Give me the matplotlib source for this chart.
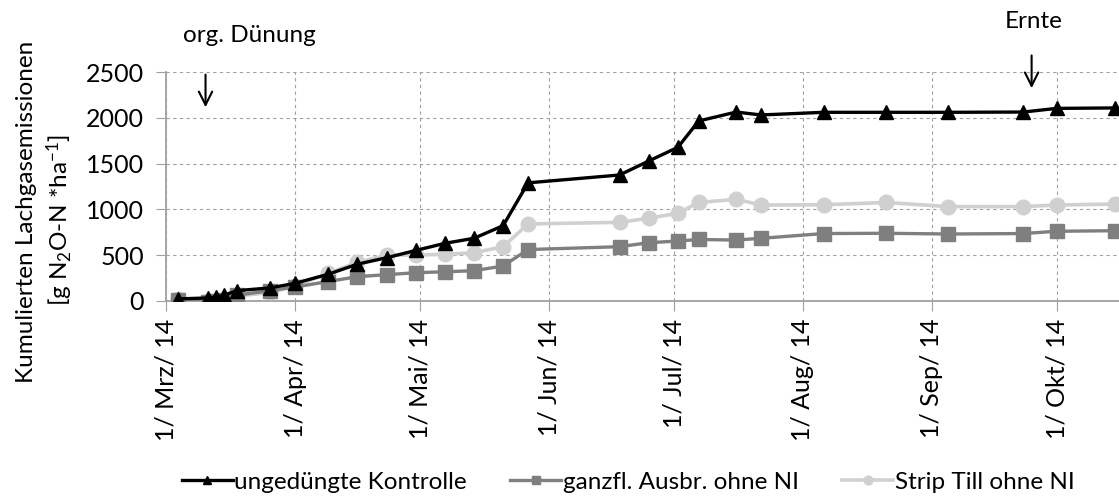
import matplotlib
matplotlib.use("Agg")
import matplotlib.pyplot as plt
import pandas as pd

plt.rcParams['font.family'] = ['Lato', 'DejaVu Sans']
plt.rcParams['mathtext.fontset'] = 'custom'
plt.rcParams['mathtext.rm'] = 'Lato'
plt.rcParams['mathtext.it'] = 'Lato:italic'
plt.rcParams['mathtext.bf'] = 'Lato:bold'

dates = ["2014-03-04", "2014-03-11", "2014-03-13", "2014-03-15", "2014-03-18",
         "2014-03-26", "2014-04-01", "2014-04-09", "2014-04-16", "2014-04-23",
         "2014-04-30", "2014-05-07", "2014-05-14", "2014-05-21", "2014-05-27",
         "2014-06-18", "2014-06-25", "2014-07-02", "2014-07-07", "2014-07-16",
         "2014-07-22", "2014-08-06", "2014-08-21", "2014-09-05", "2014-09-23",
         "2014-10-01", "2014-10-15"]

kontrolle = [20, 30, 40, 60, 110, 140, 190, 290, 400, 470, 550, 628, 683, 821, 1290,
             1376, 1529, 1679, 1967, 2065, 2033, 2062, 2062, 2062, 2065, 2105, 2110]
ganzfl = [10, -10, 0, 10, 60, 110, 150, 210, 263, 285, 306, 317, 328, 380, 560,
          591, 635, 653, 670, 664, 683, 735, 738, 730, 735, 760, 766]
strip_till = [15, 0, -10, 0, 50, 90, 160, 300, 420, 500, 500, 508, 525, 591, 840,
              858, 902, 957, 1075, 1110, 1047, 1050, 1075, 1030, 1030, 1047, 1058]

series_labels = ["ungedüngte Kontrolle", "ganzfl. Ausbr. ohne NI", "Strip Till ohne NI"]
tick_dates = ["2014-03-01", "2014-04-01", "2014-05-01", "2014-06-01",
              "2014-07-01", "2014-08-01", "2014-09-01", "2014-10-01"]
tick_labels = ["1/ Mrz/ 14", "1/ Apr/ 14", "1/ Mai/ 14", "1/ Jun/ 14",
               "1/ Jul/ 14", "1/ Aug/ 14", "1/ Sep/ 14", "1/ Okt/ 14"]

x = pd.to_datetime(dates)
xt = pd.to_datetime(tick_dates)

FS = 17.5

fig = plt.figure(figsize=(11.19, 4.96), dpi=100)
ax = fig.add_axes([166/1119, 195.3/496, 1 - 166/1119, (300.7 - 72.3)/496])

ax.plot(x, kontrolle, color='black', lw=2.4, marker='^', ms=9.5, label=series_labels[0], zorder=5)
ax.plot(x, ganzfl, color='#7f7f7f', lw=2.4, marker='s', ms=10, label=series_labels[1], zorder=4)
ax.plot(x, strip_till, color='#d0d0d0', lw=2.6, marker='o', ms=10.5, label=series_labels[2], zorder=3)

ax.set_ylim(0, 2500)
ax.set_yticks([0, 500, 1000, 1500, 2000, 2500])
ax.set_xlim(pd.Timestamp("2014-03-01"), pd.Timestamp("2014-10-16"))
ax.set_xticks(xt)
ax.set_xticklabels(tick_labels, rotation=90, fontsize=FS + 0.5)
ax.tick_params(axis='y', labelsize=FS + 0.5, length=7, pad=9, color='#a0a0a0')
ax.tick_params(axis='x', length=7, pad=6, color='#a0a0a0')

ax.grid(True, which='major', axis='both', color='#a0a0a0', linestyle=(0, (3, 3)), lw=0.8)
ax.set_axisbelow(True)
for s in ['top', 'right']:
    ax.spines[s].set_visible(False)
for s in ['left', 'bottom']:
    ax.spines[s].set_color('#a0a0a0')
    ax.spines[s].set_linewidth(1.3)

fig.text(27/1119, 1 - 212/496, "Kumulierten Lachgasemissionen", rotation=90,
         ha='center', va='center', fontsize=FS)
fig.text(60/1119, 1 - 220/496, "[g N$_2$O-N *ha$^{-1}$]", rotation=90,
         ha='center', va='center', fontsize=FS)

ax.annotate("", xy=(pd.Timestamp("2014-03-10 12:00"), 2087),
            xytext=(pd.Timestamp("2014-03-10 12:00"), 2505),
            arrowprops=dict(arrowstyle='->', color='black', lw=1.5, mutation_scale=24),
            annotation_clip=False)
ax.text(pd.Timestamp("2014-03-21"), 2908, "org. Dünung", ha='center', va='center', fontsize=FS,
        clip_on=False)
ax.annotate("", xy=(pd.Timestamp("2014-09-25"), 2296), xytext=(pd.Timestamp("2014-09-25"), 2715),
            arrowprops=dict(arrowstyle='->', color='black', lw=1.5, mutation_scale=24),
            annotation_clip=False)
ax.text(pd.Timestamp("2014-09-25 12:00"), 3061, "Ernte", ha='center', va='center', fontsize=FS,
        clip_on=False)

handles, labels = ax.get_legend_handles_labels()
fig.legend(handles, labels, loc='center', bbox_to_anchor=(628/1119, 1 - 482/496), ncol=3,
           frameon=False, fontsize=FS, markerscale=0.6, handlelength=2.1, handletextpad=0.05,
           columnspacing=1.8)

fig.savefig("out.png", dpi=100)
